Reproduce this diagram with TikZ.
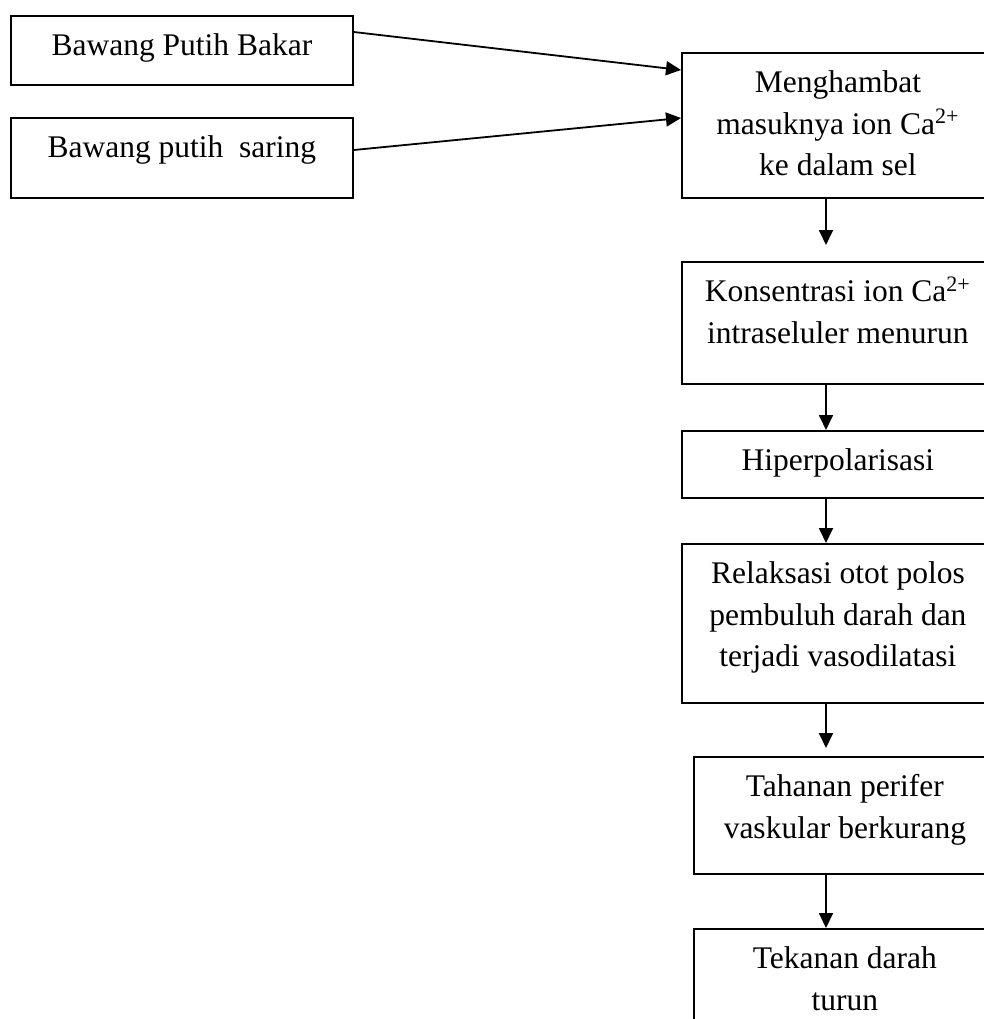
\documentclass[tikz,border=0pt]{standalone}
\usepackage{fontspec}
\setmainfont{Liberation Serif}
\usetikzlibrary{arrows.meta}
\newcommand{\boxtext}[3]{\parbox[c][#2][t]{#1}{\centering\rule{0pt}{20pt}#3}}

\begin{document}
\begin{tikzpicture}[x=0.5pt,y=-0.5pt,
        flowbox/.style = {draw, line width=0.9pt, inner sep=0pt, anchor=north west, font=\fontsize{15.75}{20.75}\selectfont},
        flowarrow/.style = {line width=0.9pt, -{Triangle[length=7.5pt,width=7pt]}}]
        \useasboundingbox (0,0) rectangle (984,1019);
        \clip (0,0) rectangle (984,1019);
        \coordinate (col) at (826,0);
        \node[flowbox] (Bakar) at (10,15) {\boxtext{171pt}{34.5pt}{Bawang Putih Bakar}};
        \node[flowbox] (Saring) at (10,117) {\boxtext{171pt}{40pt}{Bawang putih~~saring}};
        \node[flowbox] (Hambat) at (681,52) {\boxtext{156pt}{72.5pt}{Menghambat\\ masuknya ion Ca\textsuperscript{2+}\\ ke dalam sel}};
        \node[flowbox] (Konsentrasi) at (681,261) {\boxtext{156pt}{61pt}{Konsentrasi ion Ca\textsuperscript{2+}\\ intraseluler menurun}};
        \node[flowbox] (Hiper) at (681,430) {\boxtext{156pt}{33.5pt}{Hiperpolarisasi}};
        \node[flowbox] (Relaksasi) at (681,543) {\boxtext{156pt}{79.5pt}{Relaksasi otot polos\\ pembuluh darah dan\\ terjadi vasodilatasi}};
        \node[flowbox] (Tahanan) at (693,756) {\boxtext{151pt}{58.5pt}{Tahanan perifer\\ vaskular berkurang}};
        \node[flowbox] (Tekanan) at (693,928) {\boxtext{151pt}{60pt}{Tekanan darah\\ turun}};
        \draw[flowarrow] ([yshift=-8.5pt]Bakar.north east) -- ([yshift=-9pt]Hambat.north west);
        \draw[flowarrow] ([yshift=-16.5pt]Saring.north east) -- ([yshift=-33pt]Hambat.north west);
        \draw[flowarrow, shorten >=8pt] (Hambat.south -| col) -- (Konsentrasi.north -| col);
        \draw[flowarrow] (Konsentrasi.south -| col) -- (Hiper.north -| col);
        \draw[flowarrow] (Hiper.south -| col) -- (Relaksasi.north -| col);
        \draw[flowarrow, shorten >=4pt] (Relaksasi.south -| col) -- (Tahanan.north -| col);
        \draw[flowarrow] (Tahanan.south -| col) -- (Tekanan.north -| col);
    \end{tikzpicture}
\end{document}
